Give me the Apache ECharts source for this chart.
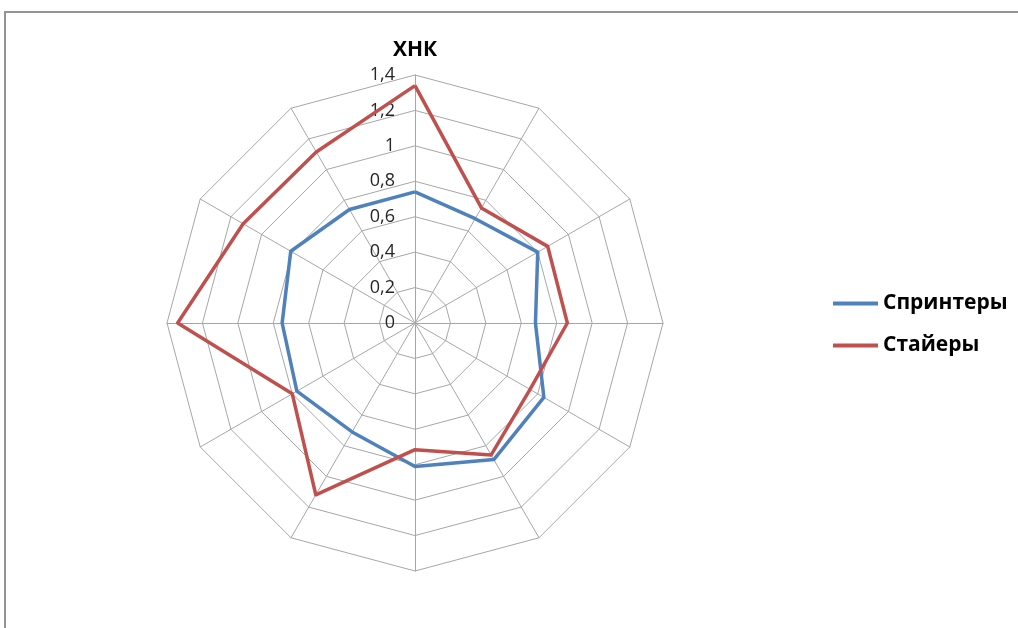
<!DOCTYPE html>
<html>
<head>
<meta charset="utf-8">
<script src="https://cdn.jsdelivr.net/npm/echarts@6/dist/echarts.min.js"></script>
<style>
  html, body { margin: 0; padding: 0; background: #fff; overflow: hidden; }
  #myChart { width: 1018px; height: 628px; }
  #frame {
    position: absolute; left: 4px; top: 11px; width: 1100px; height: 700px;
    border: 2px solid #939393; pointer-events: none;
  }
</style>
</head>
<body>
<div id="myChart"></div>
<div id="frame"></div>
<script>
// spokes, clockwise from the top (only the first one is named)
const indicatorNames = ['ХНК', '', '', '', '', '', '', '', '', '', '', ''];
const seriesNames = ['Спринтеры', 'Стайеры'];
// values per spoke, clockwise from the top
const sprinters = [0.74, 0.68, 0.80, 0.68, 0.84, 0.89, 0.81, 0.71, 0.77, 0.75, 0.81, 0.74];
const stayers = [1.34, 0.75, 0.865, 0.86, 0.75, 0.86, 0.715, 1.12, 0.80, 1.34, 1.12, 1.115];
const axisMax = 1.4;
const axisSplits = 7;

// echarts lays the spokes out counter-clockwise, so keep the first and flip the rest
const toEcharts = arr => [arr[0]].concat(arr.slice(1).reverse());

const myChart = echarts.init(document.getElementById('myChart'));
const center = [415, 323];
const radius = 248;

myChart.setOption({
  animation: false,
  color: ['#4f81bd', '#c0504d'],
  legend: {
    orient: 'vertical',
    left: 828,
    top: 288,
    itemGap: 21,
    itemWidth: 45,
    itemHeight: 4,
    icon: 'rect',
    textStyle: {
      fontFamily: 'Open Sans',
      fontWeight: 'bold',
      fontSize: 21,
      color: '#000'
    },
    data: seriesNames
  },
  radar: [
    {
      center: center,
      radius: radius,
      startAngle: 90,
      shape: 'polygon',
      splitNumber: axisSplits,
      indicator: toEcharts(indicatorNames).map(n => ({ name: n, min: 0, max: axisMax })),
      axisName: {
        color: '#000',
        fontFamily: 'Open Sans',
        fontWeight: 'bold',
        fontSize: 21
      },
      nameGap: 14,
      axisLine: { lineStyle: { color: '#a6a6a6', width: 1 } },
      splitLine: { lineStyle: { color: '#a6a6a6', width: 1 } },
      splitArea: { show: false },
      axisLabel: { show: false }
    },
    {
      // only carries the tick labels of the top spoke
      center: center,
      radius: radius,
      startAngle: 90,
      shape: 'polygon',
      splitNumber: axisSplits,
      indicator: [{ name: '', min: 0, max: axisMax }],
      axisName: { show: false },
      axisLine: { show: false },
      splitLine: { show: false },
      splitArea: { show: false },
      axisTick: { show: false },
      axisLabel: {
        show: true,
        showMinLabel: true,
        showMaxLabel: true,
        margin: 20,
        fontFamily: 'Open Sans',
        fontSize: 18,
        color: '#262626',
        formatter: v => String(Math.round(v * 10) / 10).replace('.', ',')
      }
    }
  ],
  series: [
    {
      type: 'radar',
      radarIndex: 0,
      symbol: 'none',
      lineStyle: { width: 3.5 },
      data: [
        { name: seriesNames[0], value: toEcharts(sprinters), lineStyle: { color: '#4f81bd', width: 3.5 } },
        { name: seriesNames[1], value: toEcharts(stayers), lineStyle: { color: '#c0504d', width: 3.5 } }
      ]
    }
  ]
});

window.onresize = function () {
  myChart.resize();
};
</script>
</body>
</html>
